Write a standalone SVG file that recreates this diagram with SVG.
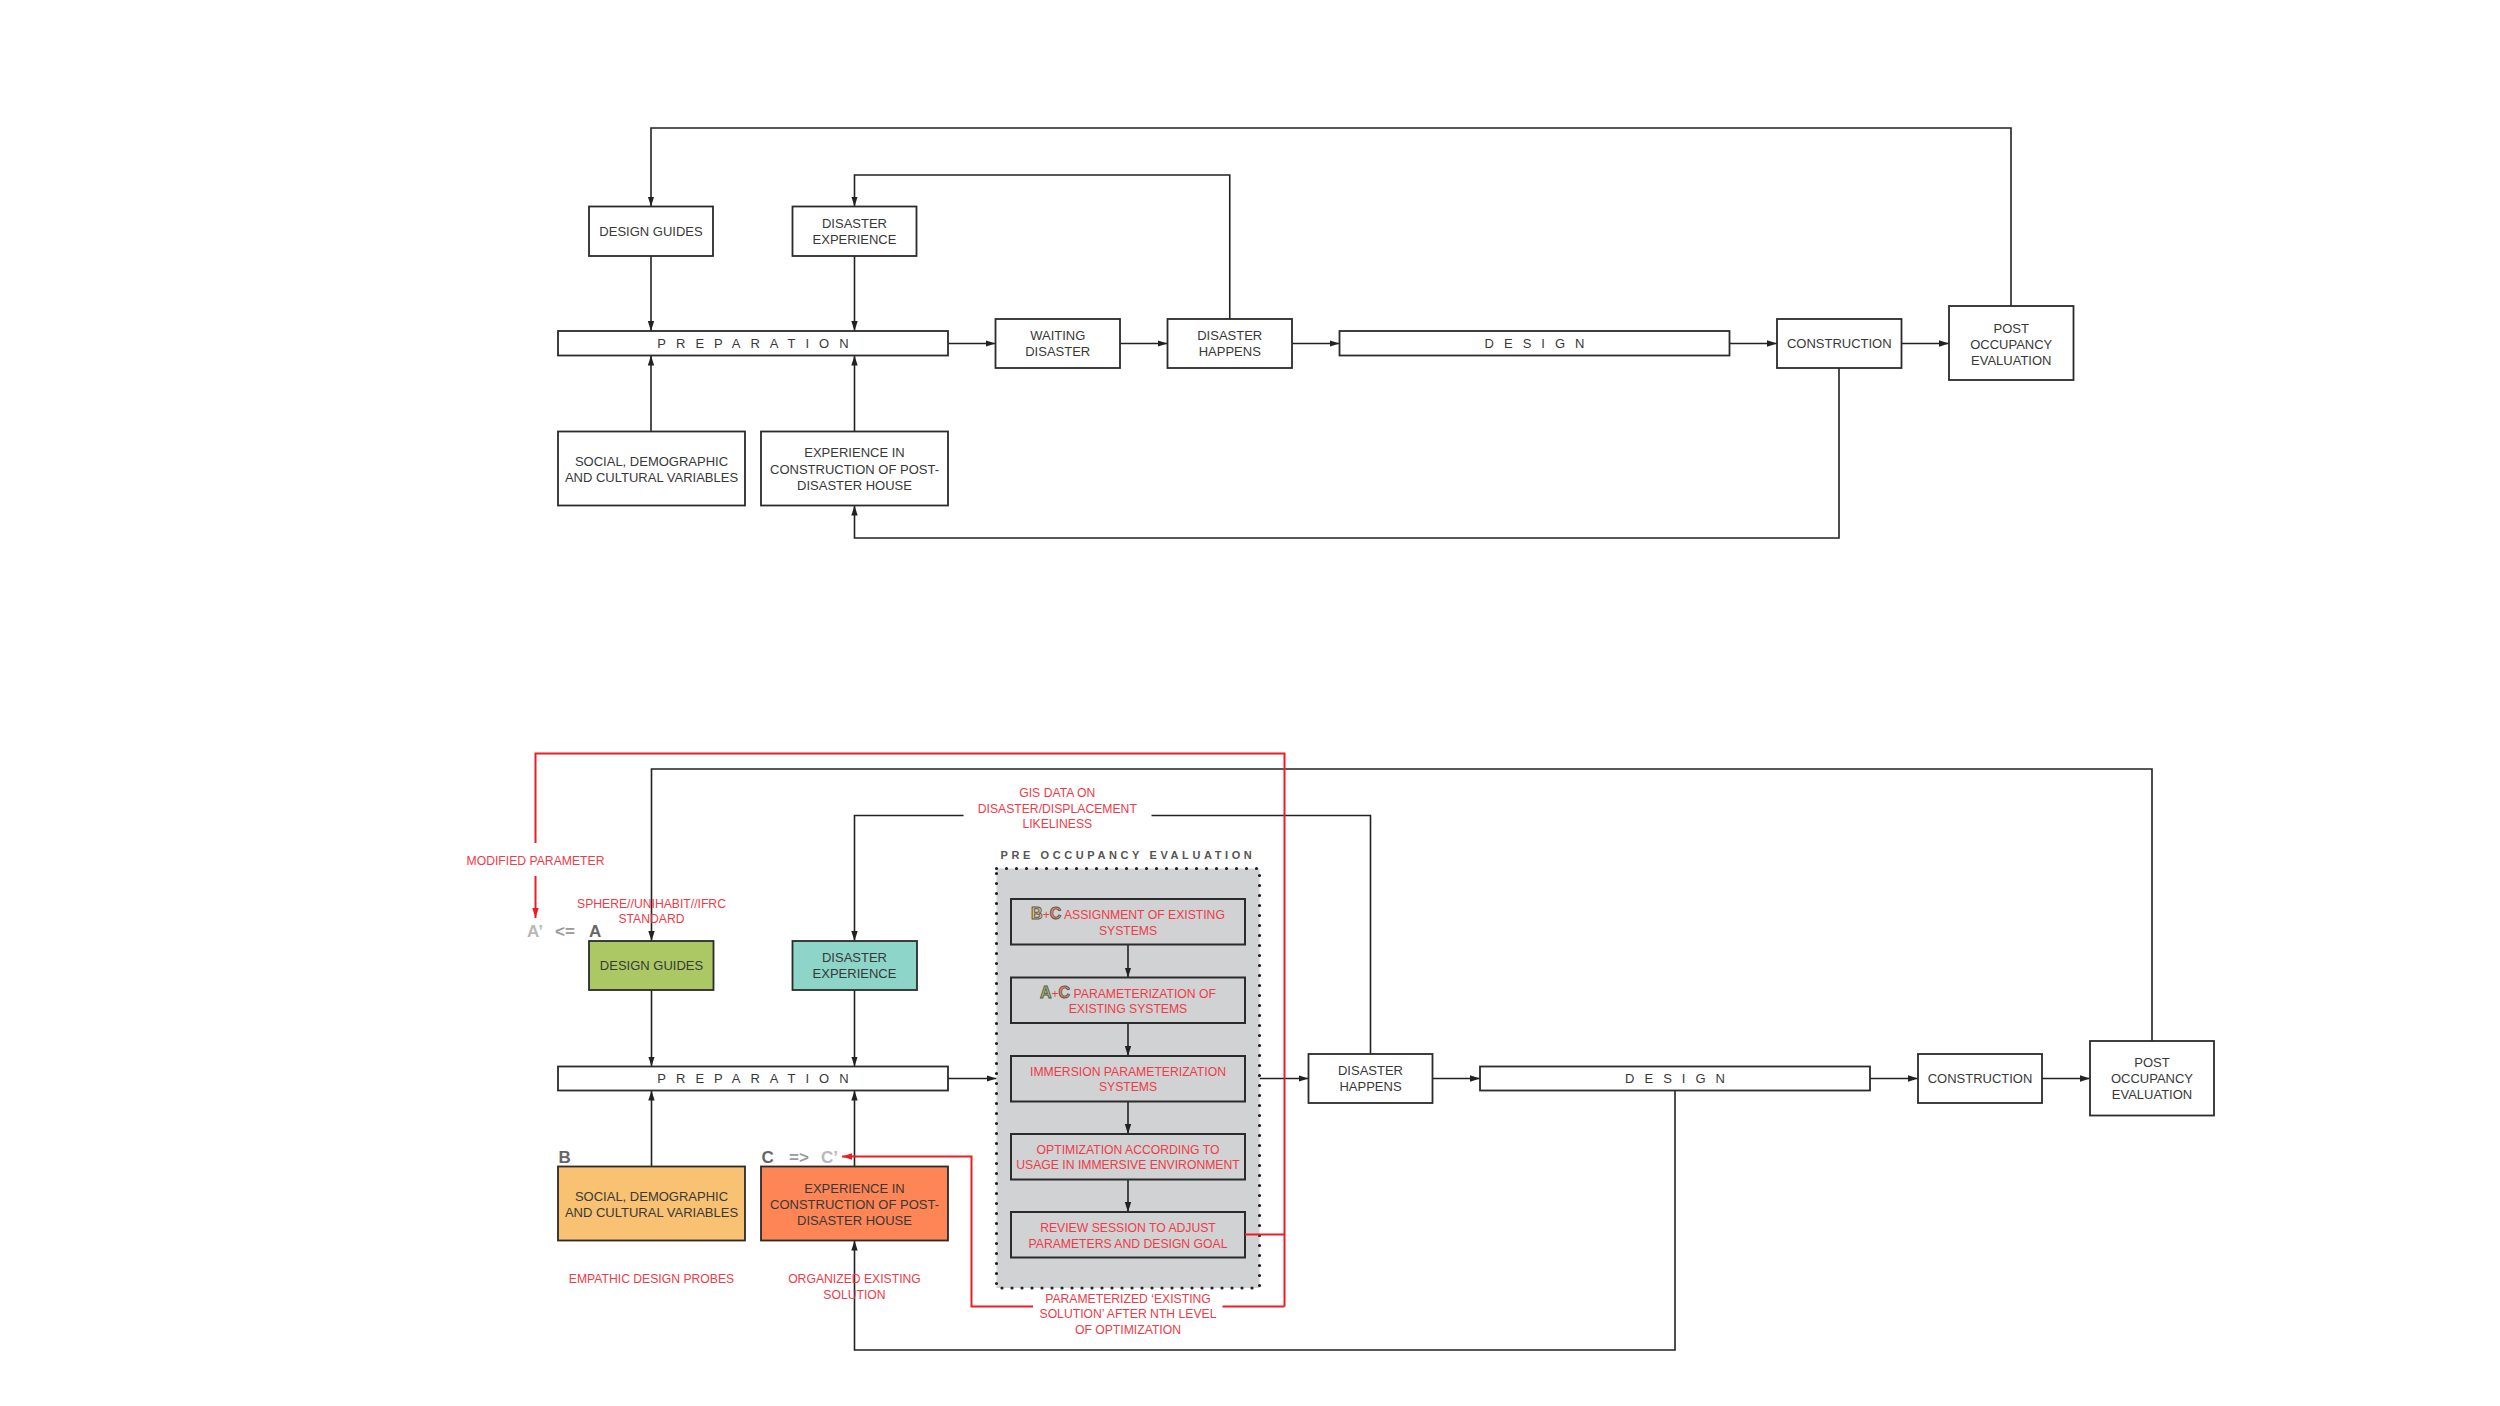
<svg xmlns="http://www.w3.org/2000/svg" width="2500" height="1406" viewBox="0 0 2500 1406">
<style>
.box{fill:#fff;stroke:#2b2b2b;stroke-width:1.8}
.t{font-family:"Liberation Sans",Arial,sans-serif;font-size:13px;fill:#383838;text-anchor:middle}
.sp{font-family:"Liberation Sans",Arial,sans-serif;font-size:13px;fill:#383838;text-anchor:middle;letter-spacing:10px}
.rt{font-family:"Liberation Sans",Arial,sans-serif;font-size:12.2px;fill:#ef3b47;text-anchor:middle}
.ln{fill:none;stroke:#222;stroke-width:1.6}
.rl{fill:none;stroke:#ed1c24;stroke-width:2}
.in{fill:#d1d2d4;stroke:#2b2b2b;stroke-width:2}
.big{font-family:"Liberation Sans",Arial,sans-serif;font-size:17px;font-weight:bold}
.ic{font-family:"Liberation Sans",Arial,sans-serif;font-size:16px;font-weight:bold;stroke:#555;stroke-width:0.9}
</style>
<defs>
<marker id="ah" markerUnits="userSpaceOnUse" markerWidth="10" markerHeight="8" refX="10" refY="4" orient="auto"><path d="M0,0.8 L10,4 L0,7.2 z" fill="#222"/></marker>
<marker id="rah" markerUnits="userSpaceOnUse" markerWidth="10" markerHeight="8" refX="10" refY="4" orient="auto"><path d="M0,0.8 L10,4 L0,7.2 z" fill="#ed1c24"/></marker>
</defs>
<rect width="2500" height="1406" fill="#fff"/>

<!-- ================= TOP DIAGRAM ================= -->
<g id="top-connectors">
<path class="ln" d="M948,343.5 H995.5" marker-end="url(#ah)"/>
<path class="ln" d="M1120,343.5 H1167.5" marker-end="url(#ah)"/>
<path class="ln" d="M1292,343.5 H1339.5" marker-end="url(#ah)"/>
<path class="ln" d="M1729.5,343.5 H1777" marker-end="url(#ah)"/>
<path class="ln" d="M1901.5,343.5 H1949" marker-end="url(#ah)"/>
<path class="ln" d="M651,256 V331" marker-end="url(#ah)"/>
<path class="ln" d="M854.5,256 V331" marker-end="url(#ah)"/>
<path class="ln" d="M651,431.5 V355.5" marker-end="url(#ah)"/>
<path class="ln" d="M854.5,431.5 V355.5" marker-end="url(#ah)"/>
<path class="ln" d="M2011,306 V128 H651 V206.5" marker-end="url(#ah)"/>
<path class="ln" d="M1229.75,319 V175 H854.5 V206.5" marker-end="url(#ah)"/>
<path class="ln" d="M1839,368 V538 H854.5 V505.5" marker-end="url(#ah)"/>
</g>
<g id="t-design-guides"><rect class="box" x="589" y="206.5" width="124" height="49.5"/><text class="t" x="651" y="235.5">DESIGN GUIDES</text></g>
<g id="t-disaster-experience"><rect class="box" x="792.5" y="206.5" width="124" height="49.5"/><text class="t" x="854.5" y="228">DISASTER</text><text class="t" x="854.5" y="244">EXPERIENCE</text></g>
<g id="t-preparation"><rect class="box" x="558" y="331" width="390" height="24.5"/><text class="sp" x="758" y="348">PREPARATION</text></g>
<g id="t-waiting"><rect class="box" x="995.5" y="319" width="124.5" height="49"/><text class="t" x="1057.75" y="340">WAITING</text><text class="t" x="1057.75" y="356">DISASTER</text></g>
<g id="t-disaster-happens"><rect class="box" x="1167.5" y="319" width="124.5" height="49"/><text class="t" x="1229.75" y="340">DISASTER</text><text class="t" x="1229.75" y="356">HAPPENS</text></g>
<g id="t-design"><rect class="box" x="1339.5" y="331" width="390" height="24.5"/><text class="sp" x="1539.5" y="348">DESIGN</text></g>
<g id="t-construction"><rect class="box" x="1777" y="319" width="124.5" height="49"/><text class="t" x="1839.25" y="348">CONSTRUCTION</text></g>
<g id="t-poe"><rect class="box" x="1949" y="306" width="124.5" height="74"/><text class="t" x="2011.25" y="333">POST</text><text class="t" x="2011.25" y="349">OCCUPANCY</text><text class="t" x="2011.25" y="365">EVALUATION</text></g>
<g id="t-social"><rect class="box" x="558" y="431.5" width="187" height="74"/><text class="t" x="651.5" y="465.5">SOCIAL, DEMOGRAPHIC</text><text class="t" x="651.5" y="481.5">AND CULTURAL VARIABLES</text></g>
<g id="t-experience"><rect class="box" x="761" y="431.5" width="187" height="74"/><text class="t" x="854.5" y="457">EXPERIENCE IN</text><text class="t" x="854.5" y="473.5">CONSTRUCTION OF POST-</text><text class="t" x="854.5" y="489.5">DISASTER HOUSE</text></g>

<!-- ================= BOTTOM DIAGRAM ================= -->
<g id="b-connectors">
<path class="ln" d="M2152,1041 V769 H651.5 V941" marker-end="url(#ah)"/>
<path class="ln" d="M1370.5,1054 V815.5 H1151.5"/>
<path class="ln" d="M963.5,815.5 H854.5 V941" marker-end="url(#ah)"/>
<path class="ln" d="M1675,1090.5 V1350 H854.5 V1240.5" marker-end="url(#ah)"/>
<path class="ln" d="M651.5,990 V1066.5" marker-end="url(#ah)"/>
<path class="ln" d="M854.5,990 V1066.5" marker-end="url(#ah)"/>
<path class="ln" d="M651.5,1166.5 V1090.5" marker-end="url(#ah)"/>
<path class="ln" d="M854.5,1166.5 V1090.5" marker-end="url(#ah)"/>
<path class="ln" d="M948,1078.5 H996.5" marker-end="url(#ah)"/>
<path class="ln" d="M1259.5,1078.5 H1308.5" marker-end="url(#ah)"/>
<path class="ln" d="M1432.5,1078.5 H1480" marker-end="url(#ah)"/>
<path class="ln" d="M1870,1078.5 H1918" marker-end="url(#ah)"/>
<path class="ln" d="M2042,1078.5 H2090" marker-end="url(#ah)"/>
</g>

<g id="pre-occupancy-evaluation">
<text x="1000.5" y="859.3" font-family="Liberation Sans, Arial, sans-serif" font-size="11" font-weight="bold" fill="#555" letter-spacing="3.6">PRE OCCUPANCY EVALUATION</text>
<rect x="996.5" y="868.5" width="263" height="419.5" fill="#d1d2d4" stroke="#222" stroke-width="3.2" stroke-linecap="round" stroke-dasharray="0 10"/>
<path class="ln" d="M1128,944.5 V977.5" marker-end="url(#ah)"/>
<path class="ln" d="M1128,1023 V1056" marker-end="url(#ah)"/>
<path class="ln" d="M1128,1101.5 V1134" marker-end="url(#ah)"/>
<path class="ln" d="M1128,1179.5 V1212" marker-end="url(#ah)"/>
<g id="poe-assignment"><rect class="in" x="1011" y="899" width="234" height="45.5"/>
<text class="rt" x="1128" y="919"><tspan class="ic" fill="#f8c272">B</tspan><tspan fill="#ef3b47" font-size="12">+</tspan><tspan class="ic" fill="#fe8555">C</tspan> ASSIGNMENT OF EXISTING</text>
<text class="rt" x="1128" y="934.5">SYSTEMS</text></g>
<g id="poe-parameterization"><rect class="in" x="1011" y="977.5" width="234" height="45.5"/>
<text class="rt" x="1128" y="997.5"><tspan class="ic" fill="#acc865">A</tspan><tspan fill="#ef3b47" font-size="12">+</tspan><tspan class="ic" fill="#fe8555">C</tspan> PARAMETERIZATION OF</text>
<text class="rt" x="1128" y="1012.5">EXISTING SYSTEMS</text></g>
<g id="poe-immersion"><rect class="in" x="1011" y="1056" width="234" height="45.5"/>
<text class="rt" x="1128" y="1076">IMMERSION PARAMETERIZATION</text>
<text class="rt" x="1128" y="1091">SYSTEMS</text></g>
<g id="poe-optimization"><rect class="in" x="1011" y="1134" width="234" height="45.5"/>
<text class="rt" x="1128" y="1153.5">OPTIMIZATION ACCORDING TO</text>
<text class="rt" x="1128" y="1169">USAGE IN IMMERSIVE ENVIRONMENT</text></g>
<g id="poe-review"><rect class="in" x="1011" y="1212" width="234" height="45.5"/>
<text class="rt" x="1128" y="1231.5">REVIEW SESSION TO ADJUST</text>
<text class="rt" x="1128" y="1247.5">PARAMETERS AND DESIGN GOAL</text></g>
</g>

<g id="red-connectors">
<path class="rl" d="M1245,1234.5 H1284.5"/>
<path class="rl" d="M1284.5,1306.5 V753.5 H535.5 V843"/>
<path class="rl" d="M535.5,876 V918" marker-end="url(#rah)"/>
<path class="rl" d="M1284.5,1306.5 H1222.5"/>
<path class="rl" d="M1033,1306.5 H971.5 V1156.5 H842" marker-end="url(#rah)"/>
</g>

<g id="b-design-guides"><rect class="box" x="589" y="941" width="124.5" height="49" style="fill:#acc865"/><text class="t" x="651.5" y="970">DESIGN GUIDES</text></g>
<g id="b-disaster-experience"><rect class="box" x="792.5" y="941" width="124.5" height="49" style="fill:#8dd5c8"/><text class="t" x="854.5" y="962">DISASTER</text><text class="t" x="854.5" y="978">EXPERIENCE</text></g>
<g id="b-preparation"><rect class="box" x="558" y="1066.5" width="390" height="24"/><text class="sp" x="758" y="1083">PREPARATION</text></g>
<g id="b-social"><rect class="box" x="558" y="1166.5" width="187" height="74" style="fill:#f8c272"/><text class="t" x="651.5" y="1200.5">SOCIAL, DEMOGRAPHIC</text><text class="t" x="651.5" y="1216.5">AND CULTURAL VARIABLES</text></g>
<g id="b-experience"><rect class="box" x="761" y="1166.5" width="187" height="74" style="fill:#fe8555"/><text class="t" x="854.5" y="1193">EXPERIENCE IN</text><text class="t" x="854.5" y="1208.5">CONSTRUCTION OF POST-</text><text class="t" x="854.5" y="1224.5">DISASTER HOUSE</text></g>
<g id="b-disaster-happens"><rect class="box" x="1308.5" y="1054" width="124" height="49"/><text class="t" x="1370.5" y="1074.5">DISASTER</text><text class="t" x="1370.5" y="1090.5">HAPPENS</text></g>
<g id="b-design"><rect class="box" x="1480" y="1066.5" width="390" height="24"/><text class="sp" x="1680" y="1083">DESIGN</text></g>
<g id="b-construction"><rect class="box" x="1918" y="1054" width="124" height="49"/><text class="t" x="1980" y="1083">CONSTRUCTION</text></g>
<g id="b-poe"><rect class="box" x="2090" y="1041" width="124" height="74.5"/><text class="t" x="2152" y="1067">POST</text><text class="t" x="2152" y="1083">OCCUPANCY</text><text class="t" x="2152" y="1099">EVALUATION</text></g>

<g id="labels">
<text class="rt" x="535.5" y="865">MODIFIED PARAMETER</text>
<text class="rt" x="651.5" y="907.7">SPHERE//UNIHABIT//IFRC</text>
<text class="rt" x="651.5" y="923.3">STANDARD</text>
<text class="rt" x="1057.3" y="797.3">GIS DATA ON</text>
<text class="rt" x="1057.3" y="812.7">DISASTER/DISPLACEMENT</text>
<text class="rt" x="1057.3" y="828.3">LIKELINESS</text>
<text class="rt" x="651.5" y="1283.3">EMPATHIC DESIGN PROBES</text>
<text class="rt" x="854.5" y="1283.3">ORGANIZED EXISTING</text>
<text class="rt" x="854.5" y="1299">SOLUTION</text>
<text class="rt" x="1128" y="1302.7">PARAMETERIZED ‘EXISTING</text>
<text class="rt" x="1128" y="1318.3">SOLUTION’ AFTER NTH LEVEL</text>
<text class="rt" x="1128" y="1334">OF OPTIMIZATION</text>
<text class="big" x="527" y="937" fill="#b8b8b8">A’</text>
<text class="big" x="555" y="937" fill="#999">&lt;=</text>
<text class="big" x="589" y="937" fill="#666">A</text>
<text class="big" x="558.5" y="1163" fill="#666">B</text>
<text class="big" x="761.5" y="1163" fill="#666">C</text>
<text class="big" x="789" y="1163" fill="#999">=&gt;</text>
<text class="big" x="821" y="1163" fill="#b8b8b8">C’</text>
</g>
</svg>
